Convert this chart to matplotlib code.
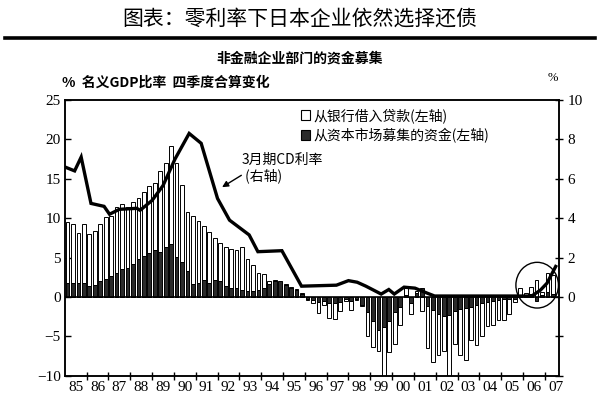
import numpy as np
import matplotlib.pyplot as plt
from matplotlib.patches import Patch, Ellipse
from matplotlib.lines import Line2D

plt.rcParams['font.family'] = ['Noto Sans CJK SC', 'DejaVu Sans']

# Quarterly, 1985Q1 - 2007Q2, % of nominal GDP (4-quarter sum change)
bank_loans = [
    7.7, 7.5, 6.3, 7.4, 6.6, 6.9, 7.2, 7.8,          # 85-86
    7.6, 8.3, 8.3, 7.7, 7.8, 7.7, 8.1, 8.5,          # 87-88
    8.5, 10.3, 10.7, 12.4, 11.9, 9.8, 7.5, 8.7,      # 89-90
    7.8, 6.9, 6.5, 5.3, 4.9, 5.0, 5.0, 4.9,          # 91-92
    5.4, 4.0, 3.2, 2.1, 1.7, 0.4, 0.1, 0.0,          # 93-94
    0.1, 0.1, 0.1, 0.1, -0.2, -0.4, -1.4, -0.5,      # 95-96
    -1.8, -2.1, -1.2, -0.2, -1.2, -0.1, -0.2, -3.0,  # 97-98
    -3.4, -2.7, -6.7, -4.0, -4.0, -2.2, 0.8, -1.4,   # 99-00
    0.3, -1.8, -5.3, -6.6, -5.1, -4.5, -8.2, -4.1,   # 01-02
    -5.8, -6.6, -4.2, -5.1, -4.1, -3.1, -3.0, -2.5,  # 03-04
    -2.6, -1.9, -0.4, 0.9, 0.3, 0.9, 2.2, 0.3,       # 05-06
    2.5, 2.4,                                        # 07
]
capital_market = [
    1.8, 1.8, 1.8, 1.8, 1.4, 1.5, 2.0, 2.3,
    2.7, 3.1, 3.5, 3.7, 4.2, 4.8, 5.2, 5.6,
    5.9, 5.7, 6.3, 6.7, 5.1, 4.4, 3.3, 1.6,
    1.8, 2.1, 1.8, 2.2, 2.0, 1.4, 1.1, 1.1,
    0.9, 0.8, 0.8, 0.9, 1.2, 1.6, 2.0, 2.0,
    1.5, 1.2, 0.9, 0.4, -0.2, -0.4, -0.6, -0.5,
    -0.8, -0.7, -0.6, -0.3, -0.5, -0.3, -1.0, -1.9,
    -3.0, -4.2, -3.8, -3.0, -1.9, -1.3, 0.3, -0.8,
    0.5, 1.2, -1.2, -1.6, -2.2, -2.4, -2.3, -1.8,
    -1.5, -1.4, -1.3, -1.0, -0.8, -0.6, -0.5, -0.4,
    -0.3, -0.3, -0.2, 0.3, 0.2, 0.4, -0.5, 0.3,
    0.6, 0.4,
]

# 3-month CD rate (right axis), read at the turning points of the line
cd_time = [1985.0, 1985.45, 1985.75, 1986.2, 1986.8, 1987.05, 1987.5, 1988.3,
           1988.45, 1989.0, 1989.5, 1990.05, 1990.7, 1991.25, 1992.0, 1992.55,
           1993.45, 1993.85, 1994.95, 1995.85, 1997.45, 1998.0, 1998.4, 1998.8,
           1999.5, 1999.85, 2000.1, 2000.55, 2001.05, 2001.6, 2001.95, 2006.4,
           2006.8, 2007.1, 2007.5]
cd_rate = [6.6, 6.4, 7.1, 4.75, 4.6, 4.2, 4.45, 4.5,
           4.4, 4.9, 5.65, 7.0, 8.3, 7.8, 5.0, 3.9,
           3.15, 2.3, 2.35, 0.55, 0.6, 0.83, 0.75, 0.55,
           0.15, 0.38, 0.15, 0.5, 0.45, 0.2, 0.05, 0.05,
           0.35, 0.7, 1.55]

year_labels = ['85', '86', '87', '88', '89', '90', '91', '92', '93', '94', '95', '96',
               '97', '98', '99', '00', '01', '02', '03', '04', '05', '06', '07']

loans = np.array(bank_loans)
cap = np.array(capital_market)
t = 1985 + (np.arange(len(loans)) + 0.5) / 4
same_sign = np.sign(loans) == np.sign(cap)
loan_bottom = np.where(same_sign, cap, 0.0)

fig = plt.figure(figsize=(6, 4.13), dpi=100)
ax = fig.add_axes([0.108, 0.090, 0.824, 0.668])
ax2 = ax.twinx()

ax.bar(t, loans, bottom=loan_bottom, width=0.17, color='white', edgecolor='black',
       linewidth=0.7, zorder=2)
ax.bar(t, cap, width=0.17, color='#2b2b2b', edgecolor='black', linewidth=0.7, zorder=3)
ax.axhline(0, color='black', lw=1.2, zorder=4)

ax.add_patch(Ellipse((2006.65, 1.5), 1.95, 5.8, fill=False, edgecolor='black',
                     lw=1.0, zorder=5))

ax2.plot(cd_time, cd_rate, color='black', lw=2.4, solid_joinstyle='miter', zorder=6)

ax.set_xlim(1985, 2007.66)
ax.set_ylim(-10, 25)
ax2.set_ylim(-4, 10)

serif = 'Liberation Serif'
ax.set_yticks(range(-10, 26, 5))
ax.set_yticklabels([str(v).replace('-', '\u2212') for v in range(-10, 26, 5)],
                   fontfamily=serif, fontsize=11)
ax.tick_params(axis='y', direction='in', length=4, width=1, pad=3)

ax2.set_yticks(range(-4, 11, 2))
ax2.set_yticklabels(['' if v < 0 else str(v) for v in range(-4, 11, 2)],
                    fontfamily=serif, fontsize=11)
ax2.tick_params(axis='y', direction='inout', length=6, width=1, pad=3)

ax.set_xticks(range(1986, 2008))
ax.set_xticklabels([])
ax.set_xticks(np.arange(1985.5, 2008, 1), minor=True)
ax.set_xticklabels(year_labels, minor=True, fontfamily=serif, fontsize=11)
ax.tick_params(axis='x', which='major', direction='inout', length=6, width=1)
ax.tick_params(axis='x', which='minor', length=0, pad=4)

for a in (ax, ax2):
    for s in a.spines.values():
        s.set_linewidth(1.1)

handles = [Patch(facecolor='white', edgecolor='black', lw=0.8),
           Patch(facecolor='#2b2b2b', edgecolor='black', lw=0.8)]
ax2.legend(handles, ['从银行借入贷款(左轴)', '从资本市场募集的资金(左轴)'],
           loc='upper left', bbox_to_anchor=(0.46, 1.0), frameon=False, fontsize=10,
           handlelength=0.7, handleheight=0.7, handletextpad=0.2, labelspacing=0.35,
           borderaxespad=0.2)

ax2.annotate('', xy=(1992.1, 5.5), xytext=(1993.2, 6.25),
             arrowprops=dict(arrowstyle='-|>', color='black', lw=1.0, mutation_scale=9))
ax2.text(1993.1, 6.55, '3月期CD利率\n (右轴)', ha='left', va='center', fontsize=10,
         linespacing=1.1)

fig.text(0.5, 0.955, '图表：零利率下日本企业依然选择还债', ha='center', va='center',
         fontsize=15)
fig.add_artist(Line2D([0.008, 0.992], [0.908, 0.908], transform=fig.transFigure,
                      color='black', lw=2.6))
fig.text(0.5, 0.858, '非金融企业部门的资金募集', ha='center', va='center',
         fontsize=10, weight='bold')
fig.text(0.103, 0.800, '%  名义GDP比率  四季度合算变化', ha='left', va='center',
         fontsize=10, weight='bold')
fig.text(0.912, 0.810, '%', ha='left', va='center', fontsize=9, fontfamily=serif)

fig.savefig('out.png', dpi=100)
